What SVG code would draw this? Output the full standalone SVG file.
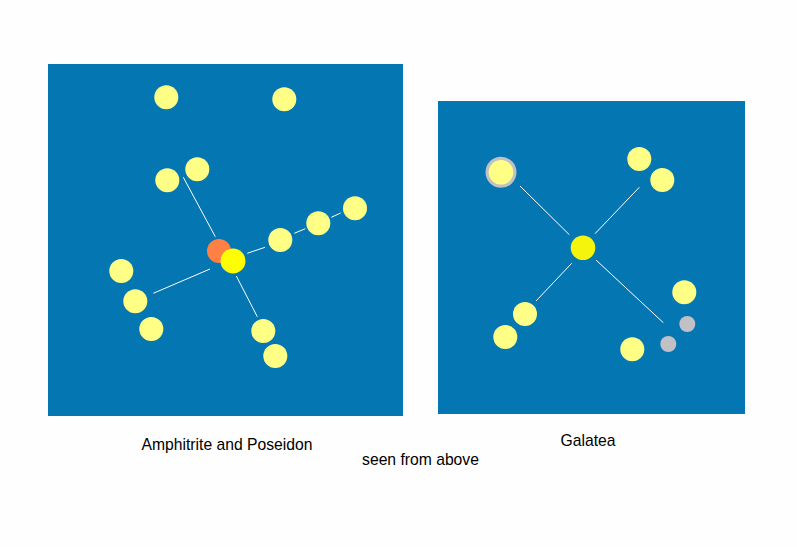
<svg xmlns="http://www.w3.org/2000/svg" width="797" height="547" viewBox="0 0 797 547">
<style>
.panel{fill:#0477b2}
.moon{fill:#ffff85}
.grey{fill:#c0c0c6}
.ln{stroke:#ffffff;stroke-width:1;fill:none}
.lbl{font-family:"Liberation Sans",Arial,sans-serif;font-size:15.7px;fill:#000;text-anchor:middle}
</style>
<rect x="0" y="0" width="797" height="547" fill="#fdfefd"/>
<g id="panel-left"><rect class="panel" x="48" y="64" width="355" height="352"/></g>
<g id="panel-right"><rect class="panel" x="438" y="101" width="307" height="313"/></g>
<g id="connectors">
<line class="ln" x1="183.3" y1="177.3" x2="215.3" y2="236.7"/>
<line class="ln" x1="247.3" y1="253.3" x2="265" y2="247.3"/>
<line class="ln" x1="294.3" y1="233.3" x2="305.3" y2="228.7"/>
<line class="ln" x1="331.3" y1="217.3" x2="340.7" y2="213"/>
<line class="ln" x1="210" y1="269" x2="153.3" y2="293.3"/>
<line class="ln" x1="236.3" y1="276" x2="257.3" y2="316.7"/>
<line class="ln" x1="520" y1="186" x2="569.3" y2="234.7"/>
<line class="ln" x1="639.3" y1="187.3" x2="595" y2="233.7"/>
<line class="ln" x1="571.7" y1="263.3" x2="536" y2="301"/>
<line class="ln" x1="596" y1="260" x2="663.3" y2="322.7"/>
</g>
<g id="left-moons">
<circle class="moon" cx="166.3" cy="97.3" r="12"/>
<circle class="moon" cx="284.3" cy="99.3" r="12"/>
<circle class="moon" cx="167.3" cy="180.3" r="12"/>
<circle class="moon" cx="197.3" cy="169.3" r="12"/>
<circle class="moon" cx="280.3" cy="240" r="12"/>
<circle class="moon" cx="318.3" cy="223.3" r="12"/>
<circle class="moon" cx="355" cy="208.3" r="12"/>
<circle class="moon" cx="121.3" cy="271" r="12"/>
<circle class="moon" cx="135.3" cy="301.3" r="12"/>
<circle class="moon" cx="151.3" cy="329" r="12"/>
<circle class="moon" cx="263.3" cy="331" r="12"/>
<circle class="moon" cx="275.3" cy="356" r="12"/>
</g>
<g id="amphitrite"><circle cx="219" cy="251" r="12" fill="#ff8044"/></g>
<g id="poseidon"><circle cx="233" cy="261" r="12.5" fill="#ffff00"/></g>
<g id="right-moons">
<circle class="grey" cx="501" cy="172.3" r="15.5"/>
<circle class="moon" cx="501" cy="172.3" r="12.3"/>
<circle class="moon" cx="639.3" cy="159" r="12"/>
<circle class="moon" cx="662.3" cy="180" r="12"/>
<circle class="moon" cx="684.3" cy="292.3" r="12"/>
<circle class="grey" cx="687.3" cy="324" r="8"/>
<circle class="grey" cx="668.3" cy="344" r="8"/>
<circle class="moon" cx="632.3" cy="349.3" r="12"/>
<circle class="moon" cx="525" cy="314" r="12"/>
<circle class="moon" cx="505.3" cy="337" r="12"/>
</g>
<g id="galatea"><circle cx="583" cy="247.7" r="12.3" fill="#f4f40c"/></g>
<g id="labels">
<text class="lbl" x="227" y="450">Amphitrite and Poseidon</text>
<text class="lbl" x="588" y="446">Galatea</text>
<text class="lbl" x="420.5" y="465">seen from above</text>
</g>
</svg>
